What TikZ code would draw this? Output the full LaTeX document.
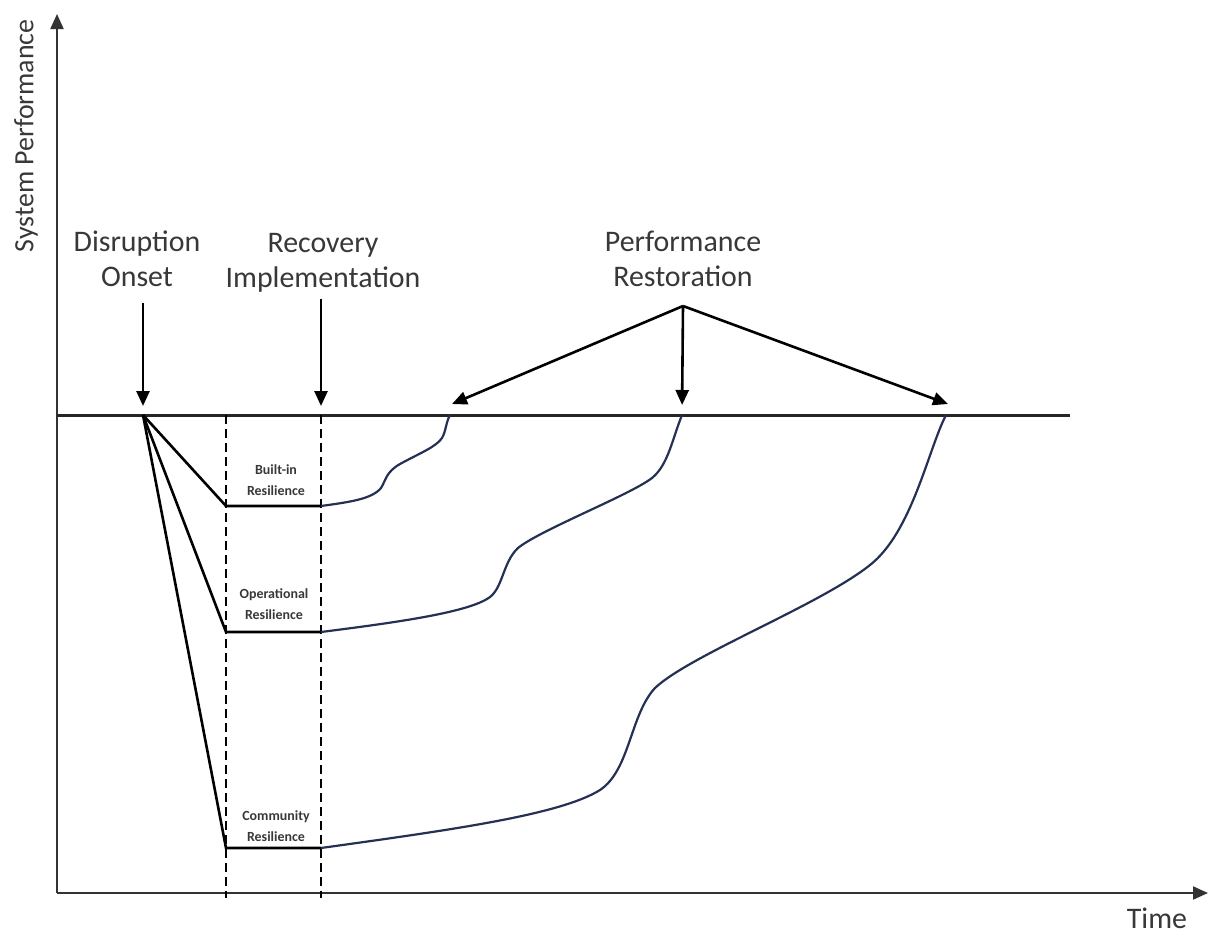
\documentclass[tikz,border=0pt]{standalone}
\usepackage{fontspec}
\setmainfont{Carlito}
\usetikzlibrary{positioning,arrows.meta}
\definecolor{curveblue}{RGB}{36,48,84}

\begin{document}
\begin{tikzpicture}[
  x=1bp, y=-1bp,
  font=\fontsize{30}{35}\selectfont,
  txt/.style={text=black!78, align=center, inner sep=0pt},
  lvl/.style={font=\bfseries\fontsize{14}{21.5}\selectfont, text=black!78, align=center, inner sep=0pt},
  axis/.style={-{Triangle[length=15bp, width=13bp]}, line width=2bp, black!80},
  pointer/.style={-{Triangle[length=15bp, width=13bp]}, line width=2.6bp, black},
  drop/.style={line width=2.6bp, black},
  phase/.style={dash pattern=on 9bp off 5bp, line width=2.2bp, black},
  recov/.style={line width=2.2bp, curveblue}
]
  \useasboundingbox (0,0) rectangle (1211,936);

  % axes
  \coordinate (origin) at (57,893);
  \coordinate (ytip) at (57,14);
  \coordinate (xtip) at (1208,893);
  \draw[axis] (origin) -- (ytip);
  \draw[axis] (origin) -- (xtip);
  \node[txt, rotate=90, font=\fontsize{28}{34}\selectfont] (ylab) at (26,136) {System Performance};
  \node[txt] (xlab) at (1157,918) {Time};

  % nominal performance level
  \coordinate (base0) at (57,415);
  \coordinate (base1) at (1070,415);
  \draw[line width=3bp, black!85] (base0) -- (base1);

  \coordinate (onset) at (143,415);
  \coordinate (impl) at (321,415);
  \coordinate (rest1) at (450,415);
  \coordinate (rest2) at (682,415);
  \coordinate (rest3) at (946,415);

  % event labels
  \node[txt] (onsetlbl) at (137,259) {Disruption\\Onset};
  \node[txt] (impllbl) at (323,263) {Recovery\\Implementation};
  \node[txt] (restlbl) at (683,259) {Performance\\Restoration};
  \coordinate (apex) at (683,306);
  \coordinate (tipL) at (452,404);
  \coordinate (tipR) at (948,404);

  \draw[pointer, shorten <=16bp, shorten >=9bp] (onsetlbl.south -| onset) -- (onset);
  \draw[pointer, shorten <=6bp, shorten >=9bp] (impllbl.south -| impl) -- (impl);
  \draw[pointer] (apex) -- (tipL);
  \draw[pointer, shorten >=10bp] (apex) -- (rest2);
  \draw[pointer] (apex) -- (tipR);

  % recovery phase boundaries
  \coordinate (dA0) at (226,415);
  \coordinate (dA1) at (226,898);
  \coordinate (dB0) at (321,415);
  \coordinate (dB1) at (321,898);
  \draw[phase] (dA0) -- (dA1);
  \draw[phase] (dB0) -- (dB1);

  % performance drops
  \coordinate (bi0) at (226,506);  \coordinate (bi1) at (321,506);
  \coordinate (op0) at (226,632);  \coordinate (op1) at (321,632);
  \coordinate (cm0) at (226,848);  \coordinate (cm1) at (321,848);
  \draw[drop] (onset) -- (bi0) -- (bi1);
  \draw[drop] (onset) -- (op0) -- (op1);
  \draw[drop] (onset) -- (cm0) -- (cm1);

  \node[lvl] (bilbl) at (276,480) {Built-in\\Resilience};
  \node[lvl] (oplbl) at (274,604) {Operational\\Resilience};
  \node[lvl] (cmlbl) at (276,826) {Community\\Resilience};

  % recovery curves
  \draw[recov] (bi1) .. controls (350,502) and (372,499) .. (381,488)
    .. controls (386,480) and (386,472) .. (400,464)
    .. controls (420,453) and (436,447) .. (442,438)
    .. controls (446,431) and (446,422) .. (rest1);
  \draw[recov] (op1) .. controls (400,622) and (470,612) .. (490,597)
    .. controls (503,587) and (503,562) .. (518,548)
    .. controls (540,530) and (630,495) .. (652,478)
    .. controls (668,465) and (672,440) .. (rest2);
  \draw[recov] (cm1) .. controls (450,830) and (560,815) .. (600,790)
    .. controls (630,770) and (630,715) .. (655,688)
    .. controls (690,655) and (820,605) .. (870,565)
    .. controls (912,532) and (928,450) .. (rest3);
\end{tikzpicture}
\end{document}
